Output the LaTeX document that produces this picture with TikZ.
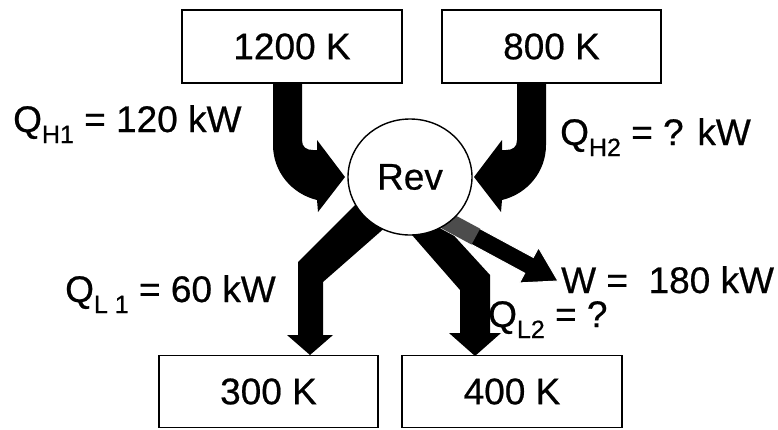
\documentclass[tikz,border=0pt]{standalone}
\usepackage{fontspec}
\setmainfont{Liberation Sans}[FakeBold=0.6]
\usetikzlibrary{shapes.geometric}
\newcommand{\qsub}[1]{\raisebox{-11pt}{\fontsize{25}{25}\selectfont #1}}
\begin{document}
\begin{tikzpicture}[x=1pt,y=-1pt,
  box/.style={draw, line width=1.4pt, inner sep=0pt, font=\fontsize{37}{40}\selectfont},
  lbl/.style={anchor=base west, inner sep=0pt, font=\fontsize{37}{40}\selectfont},
  flow/.style={fill=black}]
\useasboundingbox (0,0) rectangle (778,429);
% reservoirs
\node[box, minimum width=220pt, minimum height=73pt] (b1200) at (292,46.5) {1200 K};
\node[box, minimum width=219pt, minimum height=73pt] (b800) at (551.5,46.5) {800 K};
\node[box, minimum width=219pt, minimum height=72pt] (b300) at (268.5,391.5) {300 K};
\node[box, minimum width=220pt, minimum height=72pt] (b400) at (512,391.5) {400 K};
% Q_H1 arrow
\fill[flow] (273,83) -- (302,83) -- (302,140) .. controls (302,147) and (306,150) .. (313,150)
  -- (317,150) -- (317,140) -- (345,177) -- (318,212) -- (317,200)
  .. controls (292,194) and (273,172) .. (273,145) -- cycle;
% Q_H2 arrow (mirror)
\begin{scope}[xshift=819pt, xscale=-1]
\fill[flow] (273,83) -- (302,83) -- (302,140) .. controls (302,147) and (306,150) .. (313,150)
  -- (317,150) -- (317,140) -- (345,177) -- (318,212) -- (317,200)
  .. controls (292,194) and (273,172) .. (273,145) -- cycle;
\end{scope}
% Q_L1 arrow
\fill[flow] (365,195) -- (298,262) -- (298,335) -- (287,335) -- (310,355) -- (333,335)
  -- (323,335) -- (323,282) -- (380,232) -- (395,219) -- cycle;
% Q_L2 arrow
\fill[flow] (405,227) -- (460,290) -- (460,333) -- (449,333) -- (475,356) -- (501,333)
  -- (490,333) -- (490,275) -- (447,228) -- (437,217) -- cycle;
% W arrow
\fill[flow, draw=white, line width=1pt] (449.3,212.1) -- (533.3,257.4) -- (538.5,247.7) -- (558,281)
  -- (519.5,282.9) -- (524.7,273.2) -- (440.7,227.9) -- cycle;
\fill[black!70] (449.3,212.1) -- (480.1,228.7) -- (471.5,244.5) -- (440.7,227.9) -- cycle;
% engine
\node[ellipse, draw, fill=white, line width=1.4pt, minimum width=124pt, minimum height=116pt,
  inner sep=0pt, font=\fontsize{37}{40}\selectfont] (rev) at (410,177) {Rev};
% labels
\node[lbl] (qh1) at (13,132) {Q\qsub{H1} = 120 kW};
\node[lbl] (qh2) at (560,145) {Q\qsub{H2} = ? kW};
\node[lbl] (ql1) at (65,302) {Q\qsub{L 1} = 60 kW};
\node[lbl] (w) at (561,293) {W =\ \ 180 kW};
\node[lbl] (ql2) at (488,327) {Q\qsub{L2} = ?};
\end{tikzpicture}
\end{document}
